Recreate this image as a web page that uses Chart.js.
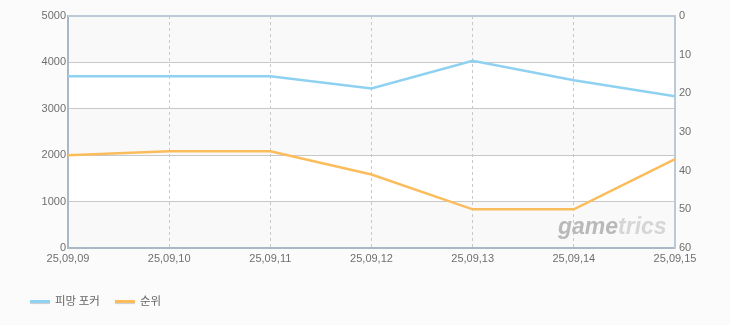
<!DOCTYPE html>
<html>
<head>
<meta charset="utf-8">
<script src="https://cdn.jsdelivr.net/npm/chart.js@4"></script>
<style>
  html, body { margin: 0; padding: 0; background: #fbfbfb; }
  #wrap { position: relative; width: 730px; height: 325px; }
  #legend { position: absolute; left: 30px; top: 292px; font: 11.5px "Noto Sans CJK KR", sans-serif; color: #666; display: flex; }
  #legend .item { display: flex; align-items: center; margin-right: 15px; }
  #legend .swatch { width: 20px; height: 3px; margin-right: 5px; margin-top: 2px; box-shadow: 0 1px 1px #ccc; }
</style>
</head>
<body>
<div id="wrap">
  <canvas id="chart" width="730" height="325"></canvas>
  <div id="legend"></div>
</div>
<script>
// data
const dates = ['25,09,09', '25,09,10', '25,09,11', '25,09,12', '25,09,13', '25,09,14', '25,09,15'];
const pmangPoker = [3700, 3700, 3700, 3440, 4035, 3615, 3270];
const rank = [36, 35, 35, 41, 50, 50, 37];
const seriesNames = ['피망 포커', '순위'];
const seriesColors = ['#8fd1f0', '#fbbd5c'];

// striped background + top border + watermark
const decor = {
  id: 'decor',
  beforeDraw(chart) {
    const { ctx, chartArea: a, scales } = chart;
    const y = scales.y;
    ctx.save();
    const ticks = y.ticks.map(t => t.value).sort((p, q) => q - p);
    for (let i = 0; i < ticks.length - 1; i++) {
      const top = y.getPixelForValue(ticks[i]);
      const bot = y.getPixelForValue(ticks[i + 1]);
      ctx.fillStyle = i % 2 === 0 ? '#f9f9f9' : '#ffffff';
      ctx.fillRect(a.left, top, a.right - a.left, bot - top);
    }
    ctx.restore();
  },
  afterDatasetsDraw(chart) {
    const { ctx, chartArea: a } = chart;
    ctx.save();
    ctx.font = 'italic bold 23px "Liberation Sans", Arial, sans-serif';
    ctx.textBaseline = 'alphabetic';
    ctx.fillStyle = '#b9b9b9';
    let x = a.right - 117;
    const base = a.bottom - 14;
    ctx.fillText('game', x, base);
    x += ctx.measureText('game').width;
    ctx.fillStyle = '#d6d6d6';
    ctx.fillText('trics', x, base);
    ctx.restore();
  },
  afterDraw(chart) {
    const { ctx, chartArea: a } = chart;
    ctx.save();
    ctx.strokeStyle = '#bccad8';
    ctx.lineWidth = 2;
    ctx.beginPath();
    ctx.moveTo(a.left, a.top);
    ctx.lineTo(a.right, a.top);
    ctx.stroke();
    ctx.restore();
  }
};

const tickFont = { family: '"Liberation Sans", Arial, sans-serif', size: 11 };

new Chart(document.getElementById('chart'), {
  type: 'line',
  data: {
    labels: dates,
    datasets: [
      {
        label: seriesNames[0],
        data: pmangPoker,
        yAxisID: 'y',
        borderColor: seriesColors[0],
        borderWidth: 2.5,
        pointRadius: 0,
        tension: 0
      },
      {
        label: seriesNames[1],
        data: rank,
        yAxisID: 'y1',
        borderColor: seriesColors[1],
        borderWidth: 2.5,
        pointRadius: 0,
        tension: 0
      }
    ]
  },
  options: {
    responsive: false,
    animation: false,
    layout: { padding: { top: 16, left: 0, right: 0, bottom: 0 } },
    plugins: {
      legend: { display: false },
      tooltip: { enabled: false }
    },
    scales: {
      x: {
        offset: false,
        grid: { color: '#c8c8c8', lineWidth: 1, drawTicks: false },
        border: { color: '#a9b7c6', width: 2, dash: [3, 3] },
        ticks: { font: tickFont, color: '#6f6f6f', padding: 4, maxRotation: 0, autoSkip: false },
        afterFit(s) { s.height = 77; }
      },
      y: {
        position: 'left',
        min: 0, max: 5000,
        ticks: { stepSize: 1000, font: tickFont, color: '#6f6f6f', padding: 2, callback: v => String(v) },
        grid: { color: '#c8c8c8', drawTicks: false },
        border: { color: '#a9b7c6', width: 2 },
        afterFit(s) { s.width = 68; }
      },
      y1: {
        position: 'right',
        reverse: true,
        min: 0, max: 60,
        ticks: { stepSize: 10, font: tickFont, color: '#6f6f6f', padding: 4, callback: v => String(v) },
        grid: { display: false, drawTicks: false },
        border: { color: '#bccad8', width: 2 },
        afterFit(s) { s.width = 55; }
      }
    }
  },
  plugins: [decor]
});

const legend = document.getElementById('legend');
seriesNames.forEach((name, i) => {
  const item = document.createElement('div');
  item.className = 'item';
  item.innerHTML = '<span class="swatch" style="background:' + seriesColors[i] + '"></span><span>' + name + '</span>';
  legend.appendChild(item);
});
</script>
</body>
</html>
